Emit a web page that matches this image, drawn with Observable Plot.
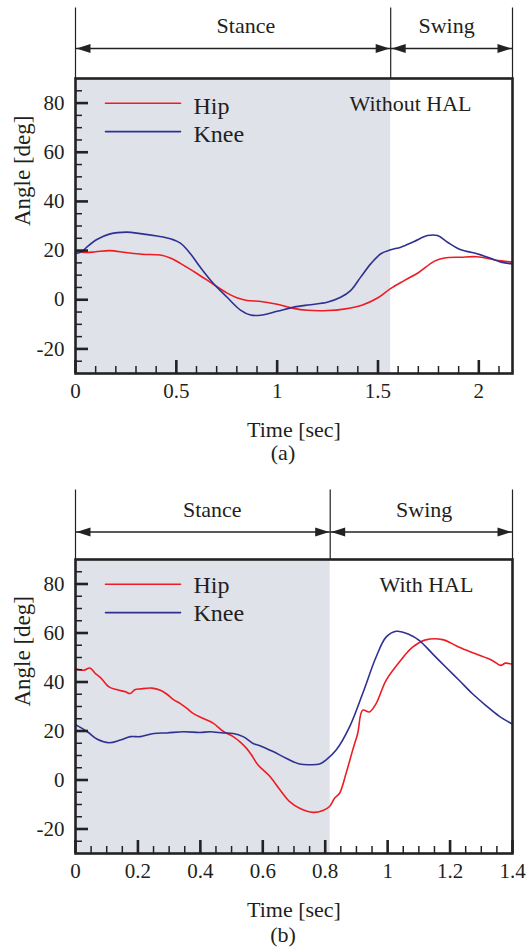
<!DOCTYPE html>
<html>
<head>
<meta charset="utf-8">
<script src="https://cdn.jsdelivr.net/npm/d3@7"></script>
<script src="https://cdn.jsdelivr.net/npm/@observablehq/plot@0.6"></script>
<style>
  body { margin: 0; background: #fff; }
  #chart svg { display: block; }
</style>
</head>
<body>
<div id="chart"></div>
<script>
// ---------- shared ----------
const series = ["Hip", "Knee"];
const seriesColors = ["#ed1c24", "#2e3192"];
const phaseNames = ["Stance", "Swing"];
const yLabel = "Angle [deg]";
const xLabel = "Time [sec]";
const yDomain = [-30, 90];
const yMajor = [-20, 0, 20, 40, 60, 80];
const yMinor = [-25, -15, -10, -5, 5, 10, 15, 25, 30, 35, 45, 50, 55, 65, 70, 75, 85];

// ---------- panel (a): Without HAL ----------
const aTitle = "Without HAL";
const aCaption = "(a)";
const aXDomain = [0, 2.167];
const aPhaseBounds = [0, 1.563, 2.167];
const aPhaseLabelX = [0.845, 1.84];
const aXMajor = [0, 0.5, 1, 1.5, 2];
const aXMinor = [0.1, 0.2, 0.3, 0.4, 0.6, 0.7, 0.8, 0.9, 1.1, 1.2, 1.3, 1.4, 1.6, 1.7, 1.8, 1.9, 2.1];
const aHipT = [0, 0.05, 0.1, 0.17, 0.25, 0.33, 0.42, 0.47, 0.52, 0.6, 0.68, 0.75, 0.8, 0.85, 0.92, 1.0, 1.08, 1.15, 1.25, 1.33, 1.42, 1.5, 1.56, 1.63, 1.7, 1.78, 1.83, 1.91, 1.99, 2.08, 2.167];
const aHipV = [19.7, 19.2, 19.5, 20.0, 19.2, 18.5, 18.2, 17.0, 14.8, 10.8, 6.5, 2.8, 0.8, -0.3, -0.7, -1.8, -3.5, -4.3, -4.4, -3.8, -2.2, 0.8, 4.4, 7.8, 11.0, 15.7, 17.0, 17.3, 17.5, 16.2, 15.3];
const aKneeT = [0, 0.03, 0.056, 0.106, 0.172, 0.255, 0.321, 0.404, 0.47, 0.52, 0.57, 0.619, 0.685, 0.752, 0.818, 0.868, 0.917, 1.0, 1.083, 1.165, 1.248, 1.315, 1.364, 1.414, 1.464, 1.514, 1.563, 1.613, 1.679, 1.745, 1.795, 1.845, 1.911, 1.978, 2.044, 2.11, 2.167];
const aKneeV = [18.8, 19.5, 21.4, 24.5, 26.8, 27.5, 26.9, 25.9, 24.8, 23.0, 18.7, 13.2, 6.5, 1.0, -4.2, -6.2, -6.3, -4.7, -3.0, -2.0, -1.0, 1.0, 3.7, 9.2, 14.6, 18.7, 20.3, 21.4, 23.7, 26.1, 26.1, 23.4, 20.3, 19.0, 17.3, 15.3, 14.6];

// ---------- panel (b): With HAL ----------
const bTitle = "With HAL";
const bCaption = "(b)";
const bXDomain = [0, 1.4];
const bPhaseBounds = [0, 0.816, 1.4];
const bPhaseLabelX = [0.438, 1.117];
const bXMajor = [0, 0.2, 0.4, 0.6, 0.8, 1, 1.2, 1.4];
const bXMinor = [0.05, 0.1, 0.15, 0.25, 0.3, 0.35, 0.45, 0.5, 0.55, 0.65, 0.7, 0.75, 0.85, 0.9, 0.95, 1.05, 1.1, 1.15, 1.25, 1.3, 1.35];
const bHipT = [0, 0.027, 0.046, 0.064, 0.08, 0.107, 0.134, 0.16, 0.175, 0.19, 0.21, 0.245, 0.272, 0.293, 0.314, 0.336, 0.357, 0.378, 0.41, 0.442, 0.474, 0.505, 0.527, 0.548, 0.564, 0.585, 0.623, 0.655, 0.686, 0.718, 0.761, 0.793, 0.814, 0.83, 0.846, 0.867, 0.888, 0.904, 0.92, 0.942, 0.963, 0.995, 1.037, 1.08, 1.122, 1.176, 1.229, 1.282, 1.335, 1.362, 1.378, 1.4];
const bHipV = [45.4, 44.8, 45.7, 43.4, 41.8, 38.0, 36.8, 36.0, 35.3, 36.8, 37.2, 37.5, 36.6, 35.0, 32.8, 31.2, 29.2, 27.1, 25.1, 23.1, 19.8, 17.7, 15.6, 12.9, 10.2, 6.1, 1.4, -4.0, -8.8, -11.5, -13.2, -12.4, -10.8, -7.4, -5.4, 2.8, 12.2, 19.0, 28.5, 27.8, 31.2, 40.7, 48.1, 54.2, 57.2, 57.3, 54.2, 51.5, 48.8, 46.8, 47.7, 47.2];
const bKneeT = [0, 0.038, 0.07, 0.107, 0.144, 0.176, 0.208, 0.251, 0.293, 0.346, 0.399, 0.431, 0.474, 0.505, 0.537, 0.569, 0.591, 0.633, 0.676, 0.718, 0.75, 0.782, 0.803, 0.835, 0.878, 0.92, 0.963, 0.995, 1.027, 1.069, 1.101, 1.144, 1.186, 1.229, 1.271, 1.314, 1.356, 1.4];
const bKneeV = [22.6, 19.7, 16.6, 15.2, 16.3, 17.7, 17.7, 19.0, 19.2, 19.7, 19.4, 19.7, 19.2, 19.0, 17.7, 14.9, 14.0, 11.6, 8.8, 6.5, 6.2, 6.5, 8.2, 12.2, 21.7, 35.3, 50.2, 58.3, 60.7, 59.4, 57.0, 51.5, 46.1, 40.7, 35.3, 30.5, 26.2, 22.8];

// ---------- drawing ----------
const ink = "#231f20";
const shade = "#dfe2e8";
const fontFamily = "'Liberation Serif', 'Times New Roman', serif";

const headShape = { draw(ctx) { ctx.moveTo(0, 0); ctx.lineTo(-14, -4.5); ctx.lineTo(-14, 4.5); ctx.closePath(); } };
const lineShape = { draw(ctx, l) { ctx.moveTo(0, 0); ctx.lineTo(0, -l); } };

function panel(p) {
  const rows = [];
  p.curves.forEach(([T, V], si) => T.forEach((t, i) => rows.push({ t, v: V[i], s: series[si] })));
  const phases = phaseNames.map((name, i) => ({ name, start: p.bounds[i], end: p.bounds[i + 1], lx: p.labelX[i] }));
  const frameH = p.height - p.marginTop - p.marginBottom;
  const top = () => yDomain[1];
  const L = p.lay;
  return Plot.plot({
    width: 527,
    height: p.height,
    marginTop: p.marginTop,
    marginBottom: p.marginBottom,
    marginLeft: 75,
    marginRight: 15,
    style: { fontFamily, color: ink, background: "#fff", overflow: "visible" },
    x: { domain: p.xDomain, axis: null },
    y: { domain: yDomain, axis: null },
    color: { domain: series, range: seriesColors },
    marks: [
      // stance shading
      Plot.rect(phases.slice(0, 1), { x1: "start", x2: "end", y1: () => yDomain[0], y2: () => yDomain[1], fill: shade }),
      // curves
      Plot.line(rows, { x: "t", y: "v", z: "s", stroke: "s", curve: "catmull-rom", strokeWidth: 1.6 }),
      // inward ticks
      Plot.axisY(yMajor, { anchor: "left", tickSize: 13, dx: 13, fill: "none", label: null, stroke: "#222", strokeWidth: 2.6 }),
      Plot.axisY(yMinor, { anchor: "left", tickSize: 7, dx: 7, fill: "none", label: null, stroke: "#222", strokeWidth: 1.5 }),
      Plot.axisX(p.xMajor, { anchor: "bottom", tickSize: 13, dy: -13, fill: "none", label: null, stroke: "#222", strokeWidth: 2.6 }),
      Plot.axisX(p.xMinor, { anchor: "bottom", tickSize: 7, dy: -7, fill: "none", label: null, stroke: "#222", strokeWidth: 1.5 }),
      // tick labels
      Plot.axisY(yMajor, { anchor: "left", tickSize: 0, tickPadding: 11, fontSize: 21, tickFormat: d => String(d), label: null }),
      Plot.axisX(p.xMajor, { anchor: "bottom", tickSize: 0, tickPadding: 10, fontSize: 21, tickFormat: d => String(d), label: null }),
      // axis titles & caption
      Plot.text([yLabel], { frameAnchor: "left", dx: -53, rotate: -90, fontSize: 23, text: d => d }),
      Plot.text([xLabel], { frameAnchor: "bottom", dy: 63, lineAnchor: "bottom", fontSize: 22, text: d => d }),
      Plot.text([p.caption], { frameAnchor: "bottom", dx: -11, dy: L.capDy, lineAnchor: "bottom", fontSize: 22, text: d => d }),
      // condition title
      Plot.text([p.title], { frameAnchor: "top-right", dx: L.titleDx, dy: 32, textAnchor: "middle", lineAnchor: "bottom", fontSize: 22, text: d => d }),
      // legend
      ...series.map((s, i) => Plot.vector([s], { frameAnchor: "top-left", dx: 30, dy: 24.7 + i * 28.4, rotate: 90, length: 75, anchor: "start", shape: lineShape, stroke: seriesColors[i], strokeWidth: 1.6 })),
      ...series.map((s, i) => Plot.text([s], { frameAnchor: "top-left", dx: 118, dy: L.legText + i * 28.2, textAnchor: "start", lineAnchor: "bottom", fontSize: 24, text: d => d })),
      // phase annotation above the frame
      Plot.ruleX(p.bounds, { insetTop: -L.lineUp, insetBottom: frameH, stroke: "#222", strokeWidth: 1.2 }),
      Plot.ruleY(phases, { x1: "start", x2: "end", y: top, dy: -L.arrowUp, stroke: "#222", strokeWidth: 1.4 }),
      Plot.dot(phases, { x: "end", y: top, dy: -L.arrowUp, dx: -1, symbol: headShape, r: 5, fill: "#222", stroke: "none" }),
      Plot.dot(phases, { x: "start", y: top, dy: -L.arrowUp, dx: 1, symbol: headShape, rotate: 180, r: 5, fill: "#222", stroke: "none" }),
      Plot.text(phases, { x: "lx", y: top, dy: -L.labelUp, text: "name", lineAnchor: "bottom", fontSize: 22 }),
      // frame
      Plot.frame({ stroke: "#222", strokeWidth: 2.6 })
    ]
  });
}

const chart = document.getElementById("chart");
chart.append(panel({
  height: 470, marginTop: 78, marginBottom: 97,
  xDomain: aXDomain, bounds: aPhaseBounds, labelX: aPhaseLabelX,
  xMajor: aXMajor, xMinor: aXMinor, title: aTitle, caption: aCaption,
  curves: [[aHipT, aHipV], [aKneeT, aKneeV]],
  lay: { arrowUp: 30, labelUp: 45.5, lineUp: 70.5, titleDx: -102, capDy: 86, legText: 35 }
}));
chart.append(panel({
  height: 480, marginTop: 89, marginBottom: 97,
  xDomain: bXDomain, bounds: bPhaseBounds, labelX: bPhaseLabelX,
  xMajor: bXMajor, xMinor: bXMinor, title: bTitle, caption: bCaption,
  curves: [[bHipT, bHipV], [bKneeT, bKneeV]],
  lay: { arrowUp: 27.5, labelUp: 43, lineUp: 69.5, titleDx: -86, capDy: 88, legText: 33.5 }
}));
</script>
</body>
</html>
